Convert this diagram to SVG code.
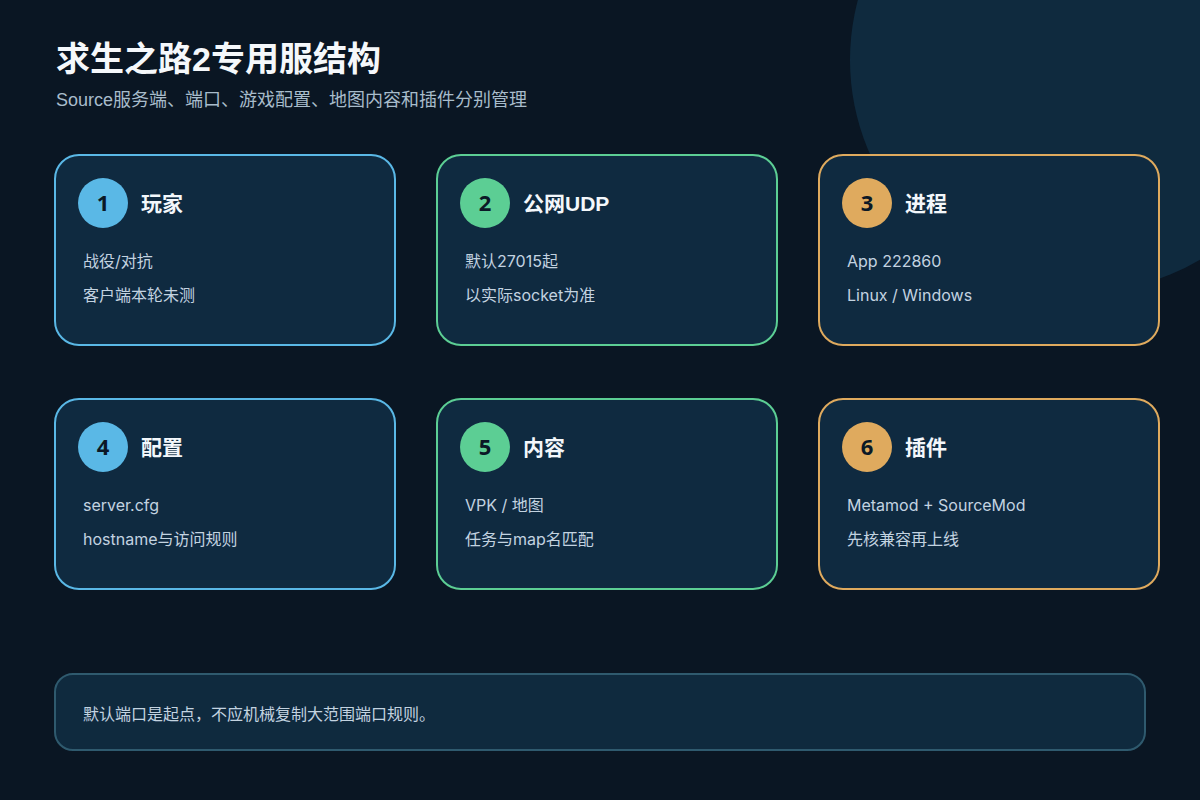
<svg xmlns="http://www.w3.org/2000/svg" width="1200" height="800" viewBox="0 0 1200 800">
<style>
.card{fill:#0f2a40;stroke-width:2}
.b{stroke:#5ab8e6}.g{stroke:#5cce94}.o{stroke:#dfaa5e}
.cb{fill:#5ab8e6}.cg{fill:#5cce94}.co{fill:#dfaa5e}
.num{font-family:"Noto Sans","Noto Sans CJK SC",sans-serif;font-size:22px;font-weight:700;fill:#0b1826;text-anchor:middle}
.ttl{font-family:"Liberation Sans","Noto Sans CJK SC",sans-serif;font-size:21px;font-weight:700;fill:#f3f7fb}
.body{font-family:Inter,"Noto Sans CJK SC",sans-serif;font-size:16px;fill:#c3d3e0}
</style>
<rect width="1200" height="800" fill="#0a1623"/>
<circle cx="1082" cy="60" r="232" fill="#0f2a3e"/>
<text x="56" y="71" font-family="Liberation Sans,Noto Sans CJK SC,sans-serif" font-size="34" font-weight="700" fill="#f5f8fb">求生之路2专用服结构</text>
<text x="56" y="106" font-family="Liberation Sans,Noto Sans CJK SC,sans-serif" font-size="18" fill="#a8bccb">Source服务端、端口、游戏配置、地图内容和插件分别管理</text>
<g id="node1"><rect class="card b" x="55" y="155" width="340" height="190" rx="24"/><circle class="cb" cx="103" cy="203" r="25"/><text class="num" x="103" y="211">1</text><text class="ttl" x="141" y="211">玩家</text><text class="body" x="83" y="267">战役/对抗</text><text class="body" x="83" y="301">客户端本轮未测</text></g>
<g id="node2"><rect class="card g" x="437" y="155" width="340" height="190" rx="24"/><circle class="cg" cx="485" cy="203" r="25"/><text class="num" x="485" y="211">2</text><text class="ttl" x="523" y="211">公网UDP</text><text class="body" x="465" y="267">默认27015起</text><text class="body" x="465" y="301">以实际socket为准</text></g>
<g id="node3"><rect class="card o" x="819" y="155" width="340" height="190" rx="24"/><circle class="co" cx="867" cy="203" r="25"/><text class="num" x="867" y="211">3</text><text class="ttl" x="905" y="211">进程</text><text class="body" x="847" y="267">App 222860</text><text class="body" x="847" y="301">Linux / Windows</text></g>
<g id="node4"><rect class="card b" x="55" y="399" width="340" height="190" rx="24"/><circle class="cb" cx="103" cy="447" r="25"/><text class="num" x="103" y="455">4</text><text class="ttl" x="141" y="455">配置</text><text class="body" x="83" y="511">server.cfg</text><text class="body" x="83" y="545">hostname与访问规则</text></g>
<g id="node5"><rect class="card g" x="437" y="399" width="340" height="190" rx="24"/><circle class="cg" cx="485" cy="447" r="25"/><text class="num" x="485" y="455">5</text><text class="ttl" x="523" y="455">内容</text><text class="body" x="465" y="511">VPK / 地图</text><text class="body" x="465" y="545">任务与map名匹配</text></g>
<g id="node6"><rect class="card o" x="819" y="399" width="340" height="190" rx="24"/><circle class="co" cx="867" cy="447" r="25"/><text class="num" x="867" y="455">6</text><text class="ttl" x="905" y="455">插件</text><text class="body" x="847" y="511">Metamod + SourceMod</text><text class="body" x="847" y="545">先核兼容再上线</text></g>
<g id="connectors"></g>
<g id="note"><rect x="55" y="674" width="1090" height="76" rx="18" fill="#0f2a3e" stroke="#2f5a6e" stroke-width="2"/><text class="body" x="83" y="720">默认端口是起点，不应机械复制大范围端口规则。</text></g>
</svg>
